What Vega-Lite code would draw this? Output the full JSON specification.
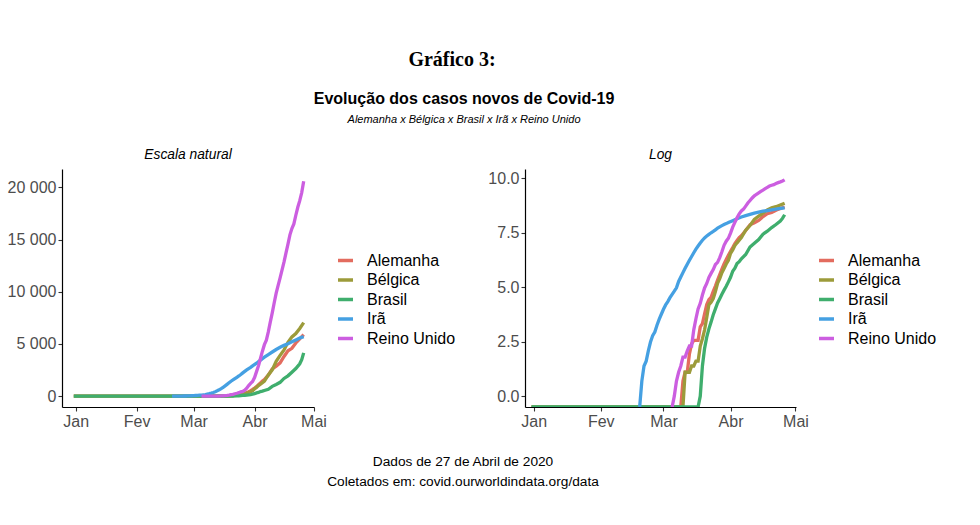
{
  "$schema": "https://vega.github.io/schema/vega-lite/v6.json",
  "autosize": {"type": "pad"},
  "padding": {"left": 7, "top": 50, "right": 0, "bottom": 0},
  "background": "white",
  "title": {"text": "Gráfico 3:", "font": "Liberation Serif", "fontSize": 20, "fontWeight": "bold", "color": "black", "anchor": "middle", "frame": "bounds", "offset": 21, "dx": -20},
  "datasets": {
    "covid": [
      {"d": "2019-12-31", "c": "Alemanha", "v": 0, "l": -1},
      {"d": "2020-03-09", "c": "Alemanha", "v": 0, "l": -1},
      {"d": "2020-03-10", "c": "Alemanha", "v": 2, "l": 0.693},
      {"d": "2020-03-11", "c": "Alemanha", "v": 3, "l": 1.099},
      {"d": "2020-03-12", "c": "Alemanha", "v": 3, "l": 1.099},
      {"d": "2020-03-13", "c": "Alemanha", "v": 7, "l": 1.946},
      {"d": "2020-03-14", "c": "Alemanha", "v": 11, "l": 2.398},
      {"d": "2020-03-15", "c": "Alemanha", "v": 13, "l": 2.565},
      {"d": "2020-03-16", "c": "Alemanha", "v": 13, "l": 2.565},
      {"d": "2020-03-17", "c": "Alemanha", "v": 13, "l": 2.565},
      {"d": "2020-03-18", "c": "Alemanha", "v": 24, "l": 3.178},
      {"d": "2020-03-19", "c": "Alemanha", "v": 28, "l": 3.332},
      {"d": "2020-03-20", "c": "Alemanha", "v": 44, "l": 3.784},
      {"d": "2020-03-21", "c": "Alemanha", "v": 67, "l": 4.205},
      {"d": "2020-03-22", "c": "Alemanha", "v": 84, "l": 4.431},
      {"d": "2020-03-23", "c": "Alemanha", "v": 94, "l": 4.543},
      {"d": "2020-03-24", "c": "Alemanha", "v": 123, "l": 4.812},
      {"d": "2020-03-25", "c": "Alemanha", "v": 157, "l": 5.056},
      {"d": "2020-03-26", "c": "Alemanha", "v": 206, "l": 5.328},
      {"d": "2020-03-27", "c": "Alemanha", "v": 267, "l": 5.587},
      {"d": "2020-03-28", "c": "Alemanha", "v": 342, "l": 5.835},
      {"d": "2020-03-29", "c": "Alemanha", "v": 433, "l": 6.071},
      {"d": "2020-03-30", "c": "Alemanha", "v": 533, "l": 6.279},
      {"d": "2020-03-31", "c": "Alemanha", "v": 645, "l": 6.469},
      {"d": "2020-04-01", "c": "Alemanha", "v": 775, "l": 6.653},
      {"d": "2020-04-02", "c": "Alemanha", "v": 920, "l": 6.824},
      {"d": "2020-04-03", "c": "Alemanha", "v": 1107, "l": 7.009},
      {"d": "2020-04-04", "c": "Alemanha", "v": 1275, "l": 7.151},
      {"d": "2020-04-05", "c": "Alemanha", "v": 1444, "l": 7.275},
      {"d": "2020-04-06", "c": "Alemanha", "v": 1584, "l": 7.368},
      {"d": "2020-04-08", "c": "Alemanha", "v": 2016, "l": 7.609},
      {"d": "2020-04-10", "c": "Alemanha", "v": 2607, "l": 7.866},
      {"d": "2020-04-12", "c": "Alemanha", "v": 2871, "l": 7.962},
      {"d": "2020-04-14", "c": "Alemanha", "v": 3194, "l": 8.069},
      {"d": "2020-04-16", "c": "Alemanha", "v": 3804, "l": 8.244},
      {"d": "2020-04-18", "c": "Alemanha", "v": 4352, "l": 8.378},
      {"d": "2020-04-20", "c": "Alemanha", "v": 4586, "l": 8.431},
      {"d": "2020-04-22", "c": "Alemanha", "v": 5100, "l": 8.537},
      {"d": "2020-04-24", "c": "Alemanha", "v": 5500, "l": 8.613},
      {"d": "2020-04-26", "c": "Alemanha", "v": 5900, "l": 8.683},

      {"d": "2019-12-31", "c": "Bélgica", "v": 0, "l": -1},
      {"d": "2020-03-10", "c": "Bélgica", "v": 0, "l": -1},
      {"d": "2020-03-11", "c": "Bélgica", "v": 3, "l": 1.099},
      {"d": "2020-03-12", "c": "Bélgica", "v": 3, "l": 1.099},
      {"d": "2020-03-13", "c": "Bélgica", "v": 3, "l": 1.099},
      {"d": "2020-03-14", "c": "Bélgica", "v": 4, "l": 1.386},
      {"d": "2020-03-15", "c": "Bélgica", "v": 4, "l": 1.386},
      {"d": "2020-03-16", "c": "Bélgica", "v": 5, "l": 1.609},
      {"d": "2020-03-17", "c": "Bélgica", "v": 5, "l": 1.609},
      {"d": "2020-03-18", "c": "Bélgica", "v": 10, "l": 2.303},
      {"d": "2020-03-19", "c": "Bélgica", "v": 14, "l": 2.639},
      {"d": "2020-03-20", "c": "Bélgica", "v": 21, "l": 3.045},
      {"d": "2020-03-21", "c": "Bélgica", "v": 37, "l": 3.611},
      {"d": "2020-03-22", "c": "Bélgica", "v": 67, "l": 4.205},
      {"d": "2020-03-23", "c": "Bélgica", "v": 75, "l": 4.317},
      {"d": "2020-03-24", "c": "Bélgica", "v": 88, "l": 4.477},
      {"d": "2020-03-25", "c": "Bélgica", "v": 122, "l": 4.804},
      {"d": "2020-03-26", "c": "Bélgica", "v": 178, "l": 5.182},
      {"d": "2020-03-27", "c": "Bélgica", "v": 220, "l": 5.394},
      {"d": "2020-03-28", "c": "Bélgica", "v": 289, "l": 5.666},
      {"d": "2020-03-29", "c": "Bélgica", "v": 353, "l": 5.866},
      {"d": "2020-03-30", "c": "Bélgica", "v": 431, "l": 6.066},
      {"d": "2020-03-31", "c": "Bélgica", "v": 513, "l": 6.240},
      {"d": "2020-04-01", "c": "Bélgica", "v": 705, "l": 6.558},
      {"d": "2020-04-02", "c": "Bélgica", "v": 828, "l": 6.719},
      {"d": "2020-04-03", "c": "Bélgica", "v": 1011, "l": 6.919},
      {"d": "2020-04-04", "c": "Bélgica", "v": 1143, "l": 7.041},
      {"d": "2020-04-05", "c": "Bélgica", "v": 1283, "l": 7.157},
      {"d": "2020-04-06", "c": "Bélgica", "v": 1447, "l": 7.277},
      {"d": "2020-04-08", "c": "Bélgica", "v": 2035, "l": 7.618},
      {"d": "2020-04-10", "c": "Bélgica", "v": 2523, "l": 7.833},
      {"d": "2020-04-12", "c": "Bélgica", "v": 3346, "l": 8.115},
      {"d": "2020-04-14", "c": "Bélgica", "v": 3903, "l": 8.270},
      {"d": "2020-04-16", "c": "Bélgica", "v": 4440, "l": 8.398},
      {"d": "2020-04-18", "c": "Bélgica", "v": 5163, "l": 8.549},
      {"d": "2020-04-20", "c": "Bélgica", "v": 5683, "l": 8.645},
      {"d": "2020-04-22", "c": "Bélgica", "v": 5998, "l": 8.699},
      {"d": "2020-04-24", "c": "Bélgica", "v": 6490, "l": 8.778},
      {"d": "2020-04-26", "c": "Bélgica", "v": 7050, "l": 8.861},

      {"d": "2019-12-31", "c": "Brasil", "v": 0, "l": -1},
      {"d": "2020-03-17", "c": "Brasil", "v": 0, "l": -1},
      {"d": "2020-03-18", "c": "Brasil", "v": 1, "l": 0},
      {"d": "2020-03-19", "c": "Brasil", "v": 4, "l": 1.386},
      {"d": "2020-03-20", "c": "Brasil", "v": 9, "l": 2.197},
      {"d": "2020-03-21", "c": "Brasil", "v": 15, "l": 2.708},
      {"d": "2020-03-22", "c": "Brasil", "v": 22, "l": 3.091},
      {"d": "2020-03-23", "c": "Brasil", "v": 30, "l": 3.401},
      {"d": "2020-03-24", "c": "Brasil", "v": 42, "l": 3.738},
      {"d": "2020-03-25", "c": "Brasil", "v": 55, "l": 4.007},
      {"d": "2020-03-26", "c": "Brasil", "v": 72, "l": 4.277},
      {"d": "2020-03-27", "c": "Brasil", "v": 88, "l": 4.477},
      {"d": "2020-03-28", "c": "Brasil", "v": 108, "l": 4.682},
      {"d": "2020-03-29", "c": "Brasil", "v": 130, "l": 4.868},
      {"d": "2020-03-30", "c": "Brasil", "v": 155, "l": 5.043},
      {"d": "2020-03-31", "c": "Brasil", "v": 190, "l": 5.247},
      {"d": "2020-04-01", "c": "Brasil", "v": 235, "l": 5.460},
      {"d": "2020-04-02", "c": "Brasil", "v": 310, "l": 5.737},
      {"d": "2020-04-03", "c": "Brasil", "v": 355, "l": 5.872},
      {"d": "2020-04-04", "c": "Brasil", "v": 440, "l": 6.087},
      {"d": "2020-04-05", "c": "Brasil", "v": 480, "l": 6.174},
      {"d": "2020-04-06", "c": "Brasil", "v": 550, "l": 6.310},
      {"d": "2020-04-08", "c": "Brasil", "v": 667, "l": 6.503},
      {"d": "2020-04-10", "c": "Brasil", "v": 941, "l": 6.847},
      {"d": "2020-04-12", "c": "Brasil", "v": 1124, "l": 7.025},
      {"d": "2020-04-14", "c": "Brasil", "v": 1328, "l": 7.192},
      {"d": "2020-04-16", "c": "Brasil", "v": 1700, "l": 7.438},
      {"d": "2020-04-18", "c": "Brasil", "v": 1950, "l": 7.576},
      {"d": "2020-04-20", "c": "Brasil", "v": 2300, "l": 7.741},
      {"d": "2020-04-22", "c": "Brasil", "v": 2650, "l": 7.882},
      {"d": "2020-04-24", "c": "Brasil", "v": 3100, "l": 8.039},
      {"d": "2020-04-25", "c": "Brasil", "v": 3500, "l": 8.161},
      {"d": "2020-04-26", "c": "Brasil", "v": 4150, "l": 8.331},

      {"d": "2020-02-19", "c": "Irã", "v": 0, "l": -1},
      {"d": "2020-02-20", "c": "Irã", "v": 2, "l": 0.693},
      {"d": "2020-02-21", "c": "Irã", "v": 4, "l": 1.386},
      {"d": "2020-02-22", "c": "Irã", "v": 5, "l": 1.609},
      {"d": "2020-02-23", "c": "Irã", "v": 8, "l": 2.079},
      {"d": "2020-02-24", "c": "Irã", "v": 12, "l": 2.485},
      {"d": "2020-02-25", "c": "Irã", "v": 16, "l": 2.773},
      {"d": "2020-02-26", "c": "Irã", "v": 19, "l": 2.944},
      {"d": "2020-02-27", "c": "Irã", "v": 26, "l": 3.258},
      {"d": "2020-02-28", "c": "Irã", "v": 34, "l": 3.526},
      {"d": "2020-02-29", "c": "Irã", "v": 43, "l": 3.761},
      {"d": "2020-03-01", "c": "Irã", "v": 54, "l": 3.989},
      {"d": "2020-03-02", "c": "Irã", "v": 66, "l": 4.190},
      {"d": "2020-03-03", "c": "Irã", "v": 77, "l": 4.344},
      {"d": "2020-03-04", "c": "Irã", "v": 92, "l": 4.522},
      {"d": "2020-03-05", "c": "Irã", "v": 107, "l": 4.673},
      {"d": "2020-03-06", "c": "Irã", "v": 124, "l": 4.820},
      {"d": "2020-03-07", "c": "Irã", "v": 145, "l": 4.977},
      {"d": "2020-03-08", "c": "Irã", "v": 194, "l": 5.268},
      {"d": "2020-03-09", "c": "Irã", "v": 237, "l": 5.468},
      {"d": "2020-03-10", "c": "Irã", "v": 291, "l": 5.673},
      {"d": "2020-03-11", "c": "Irã", "v": 354, "l": 5.869},
      {"d": "2020-03-12", "c": "Irã", "v": 429, "l": 6.061},
      {"d": "2020-03-13", "c": "Irã", "v": 514, "l": 6.242},
      {"d": "2020-03-14", "c": "Irã", "v": 611, "l": 6.415},
      {"d": "2020-03-15", "c": "Irã", "v": 724, "l": 6.585},
      {"d": "2020-03-16", "c": "Irã", "v": 853, "l": 6.749},
      {"d": "2020-03-17", "c": "Irã", "v": 988, "l": 6.896},
      {"d": "2020-03-18", "c": "Irã", "v": 1135, "l": 7.034},
      {"d": "2020-03-19", "c": "Irã", "v": 1284, "l": 7.158},
      {"d": "2020-03-20", "c": "Irã", "v": 1433, "l": 7.268},
      {"d": "2020-03-21", "c": "Irã", "v": 1556, "l": 7.350},
      {"d": "2020-03-22", "c": "Irã", "v": 1685, "l": 7.429},
      {"d": "2020-03-23", "c": "Irã", "v": 1812, "l": 7.502},
      {"d": "2020-03-24", "c": "Irã", "v": 1934, "l": 7.567},
      {"d": "2020-03-25", "c": "Irã", "v": 2077, "l": 7.639},
      {"d": "2020-03-26", "c": "Irã", "v": 2234, "l": 7.712},
      {"d": "2020-03-27", "c": "Irã", "v": 2378, "l": 7.774},
      {"d": "2020-03-28", "c": "Irã", "v": 2517, "l": 7.831},
      {"d": "2020-03-29", "c": "Irã", "v": 2640, "l": 7.879},
      {"d": "2020-03-30", "c": "Irã", "v": 2757, "l": 7.922},
      {"d": "2020-03-31", "c": "Irã", "v": 2898, "l": 7.972},
      {"d": "2020-04-02", "c": "Irã", "v": 3160, "l": 8.058},
      {"d": "2020-04-04", "c": "Irã", "v": 3452, "l": 8.147},
      {"d": "2020-04-06", "c": "Irã", "v": 3739, "l": 8.226},
      {"d": "2020-04-08", "c": "Irã", "v": 3993, "l": 8.292},
      {"d": "2020-04-10", "c": "Irã", "v": 4232, "l": 8.350},
      {"d": "2020-04-12", "c": "Irã", "v": 4474, "l": 8.406},
      {"d": "2020-04-14", "c": "Irã", "v": 4683, "l": 8.452},
      {"d": "2020-04-16", "c": "Irã", "v": 4869, "l": 8.491},
      {"d": "2020-04-18", "c": "Irã", "v": 5031, "l": 8.523},
      {"d": "2020-04-20", "c": "Irã", "v": 5209, "l": 8.558},
      {"d": "2020-04-22", "c": "Irã", "v": 5391, "l": 8.592},
      {"d": "2020-04-24", "c": "Irã", "v": 5574, "l": 8.626},
      {"d": "2020-04-26", "c": "Irã", "v": 5710, "l": 8.650},

      {"d": "2020-03-05", "c": "Reino Unido", "v": 0, "l": -1},
      {"d": "2020-03-06", "c": "Reino Unido", "v": 1, "l": 0},
      {"d": "2020-03-07", "c": "Reino Unido", "v": 2, "l": 0.693},
      {"d": "2020-03-08", "c": "Reino Unido", "v": 3, "l": 1.099},
      {"d": "2020-03-09", "c": "Reino Unido", "v": 4, "l": 1.386},
      {"d": "2020-03-10", "c": "Reino Unido", "v": 6, "l": 1.792},
      {"d": "2020-03-11", "c": "Reino Unido", "v": 6, "l": 1.792},
      {"d": "2020-03-12", "c": "Reino Unido", "v": 8, "l": 2.079},
      {"d": "2020-03-13", "c": "Reino Unido", "v": 10, "l": 2.303},
      {"d": "2020-03-14", "c": "Reino Unido", "v": 10, "l": 2.303},
      {"d": "2020-03-15", "c": "Reino Unido", "v": 21, "l": 3.045},
      {"d": "2020-03-16", "c": "Reino Unido", "v": 35, "l": 3.555},
      {"d": "2020-03-17", "c": "Reino Unido", "v": 55, "l": 4.007},
      {"d": "2020-03-18", "c": "Reino Unido", "v": 71, "l": 4.263},
      {"d": "2020-03-19", "c": "Reino Unido", "v": 104, "l": 4.644},
      {"d": "2020-03-20", "c": "Reino Unido", "v": 144, "l": 4.970},
      {"d": "2020-03-21", "c": "Reino Unido", "v": 177, "l": 5.176},
      {"d": "2020-03-22", "c": "Reino Unido", "v": 233, "l": 5.451},
      {"d": "2020-03-23", "c": "Reino Unido", "v": 281, "l": 5.638},
      {"d": "2020-03-24", "c": "Reino Unido", "v": 335, "l": 5.814},
      {"d": "2020-03-25", "c": "Reino Unido", "v": 422, "l": 6.045},
      {"d": "2020-03-26", "c": "Reino Unido", "v": 465, "l": 6.142},
      {"d": "2020-03-27", "c": "Reino Unido", "v": 578, "l": 6.360},
      {"d": "2020-03-28", "c": "Reino Unido", "v": 759, "l": 6.632},
      {"d": "2020-03-29", "c": "Reino Unido", "v": 1019, "l": 6.927},
      {"d": "2020-03-30", "c": "Reino Unido", "v": 1228, "l": 7.113},
      {"d": "2020-03-31", "c": "Reino Unido", "v": 1408, "l": 7.250},
      {"d": "2020-04-01", "c": "Reino Unido", "v": 1789, "l": 7.489},
      {"d": "2020-04-02", "c": "Reino Unido", "v": 2352, "l": 7.763},
      {"d": "2020-04-03", "c": "Reino Unido", "v": 2921, "l": 7.980},
      {"d": "2020-04-04", "c": "Reino Unido", "v": 3605, "l": 8.190},
      {"d": "2020-04-05", "c": "Reino Unido", "v": 4313, "l": 8.369},
      {"d": "2020-04-06", "c": "Reino Unido", "v": 4934, "l": 8.504},
      {"d": "2020-04-07", "c": "Reino Unido", "v": 5373, "l": 8.589},
      {"d": "2020-04-08", "c": "Reino Unido", "v": 6159, "l": 8.726},
      {"d": "2020-04-09", "c": "Reino Unido", "v": 7097, "l": 8.867},
      {"d": "2020-04-10", "c": "Reino Unido", "v": 7978, "l": 8.985},
      {"d": "2020-04-11", "c": "Reino Unido", "v": 8958, "l": 9.100},
      {"d": "2020-04-12", "c": "Reino Unido", "v": 9875, "l": 9.198},
      {"d": "2020-04-13", "c": "Reino Unido", "v": 10612, "l": 9.270},
      {"d": "2020-04-14", "c": "Reino Unido", "v": 11329, "l": 9.335},
      {"d": "2020-04-15", "c": "Reino Unido", "v": 12107, "l": 9.402},
      {"d": "2020-04-16", "c": "Reino Unido", "v": 12868, "l": 9.463},
      {"d": "2020-04-17", "c": "Reino Unido", "v": 13729, "l": 9.527},
      {"d": "2020-04-18", "c": "Reino Unido", "v": 14576, "l": 9.587},
      {"d": "2020-04-19", "c": "Reino Unido", "v": 15464, "l": 9.646},
      {"d": "2020-04-20", "c": "Reino Unido", "v": 16060, "l": 9.684},
      {"d": "2020-04-21", "c": "Reino Unido", "v": 16509, "l": 9.712},
      {"d": "2020-04-22", "c": "Reino Unido", "v": 17337, "l": 9.761},
      {"d": "2020-04-23", "c": "Reino Unido", "v": 18100, "l": 9.804},
      {"d": "2020-04-24", "c": "Reino Unido", "v": 18738, "l": 9.838},
      {"d": "2020-04-25", "c": "Reino Unido", "v": 19506, "l": 9.878},
      {"d": "2020-04-26", "c": "Reino Unido", "v": 20600, "l": 9.933}
    ]
  },
  "vconcat": [
    {
      "title": {"text": ["Dados de 27 de Abril de 2020", "Coletados em: covid.ourworldindata.org/data"], "orient": "bottom", "fontSize": 13.7, "fontWeight": "normal", "color": "black", "anchor": "middle", "frame": "bounds", "offset": 26, "lineHeight": 20, "dx": -9},
      "vconcat": [
        {
          "title": {"text": "Evolução dos casos novos de Covid-19", "subtitle": "Alemanha x Bélgica x Brasil x Irã x Reino Unido", "fontSize": 16, "fontWeight": "bold", "color": "black", "subtitleFontSize": 11, "subtitleFontStyle": "italic", "subtitleColor": "black", "subtitlePadding": 7, "anchor": "middle", "frame": "bounds", "offset": 23, "dx": -8},
          "spacing": 31,
          "resolve": {"scale": {"color": "independent"}},
          "hconcat": [
            {
              "width": 252,
              "height": 238,
              "data": {"name": "covid"},
              "title": {"text": "Escala natural", "fontSize": 13.8, "fontStyle": "italic", "fontWeight": "normal", "color": "black", "anchor": "middle", "offset": 7},
              "mark": {"type": "line", "strokeWidth": 3.3, "clip": true},
              "encoding": {
                "x": {
                  "field": "d", "type": "temporal",
                  "scale": {"domain": [{"year": 2019, "month": 12, "date": 25, "utc": true}, {"year": 2020, "month": 5, "date": 1, "hours": 6, "utc": true}]},
                  "axis": {"title": null, "values": [{"year": 2020, "month": 1, "date": 1, "utc": true}, {"year": 2020, "month": 2, "date": 1, "utc": true}, {"year": 2020, "month": 3, "date": 1, "utc": true}, {"year": 2020, "month": 4, "date": 1, "utc": true}, {"year": 2020, "month": 5, "date": 1, "utc": true}], "labelExpr": "['Jan','Fev','Mar','Abr','Mai'][utcmonth(datum.value)]"}
                },
                "y": {
                  "field": "v", "type": "quantitative",
                  "scale": {"domain": [-1037, 21769], "nice": false, "zero": false},
                  "axis": {"title": null, "values": [0, 5000, 10000, 15000, 20000], "labelExpr": "replace(format(datum.value, ','), ',', ' ')"}
                },
                "color": {
                  "field": "c", "type": "nominal",
                  "scale": {"domain": ["Alemanha", "Bélgica", "Brasil", "Irã", "Reino Unido"], "range": ["#E36C5F", "#9C9B3A", "#3FAE6D", "#45A0E2", "#CC5EE0"]},
                  "legend": {"title": null, "orient": "none", "legendX": 274, "legendY": 82}
                }
              }
            },
            {
              "width": 271,
              "height": 238,
              "data": {"name": "covid"},
              "title": {"text": "Log", "fontSize": 13.8, "fontStyle": "italic", "fontWeight": "normal", "color": "black", "anchor": "middle", "offset": 7},
              "mark": {"type": "line", "strokeWidth": 3.3, "clip": true},
              "encoding": {
                "x": {
                  "field": "d", "type": "temporal",
                  "scale": {"domain": [{"year": 2019, "month": 12, "date": 28, "utc": true}, {"year": 2020, "month": 5, "date": 1, "hours": 6, "utc": true}]},
                  "axis": {"title": null, "values": [{"year": 2020, "month": 1, "date": 1, "utc": true}, {"year": 2020, "month": 2, "date": 1, "utc": true}, {"year": 2020, "month": 3, "date": 1, "utc": true}, {"year": 2020, "month": 4, "date": 1, "utc": true}, {"year": 2020, "month": 5, "date": 1, "utc": true}], "labelExpr": "['Jan','Fev','Mar','Abr','Mai'][utcmonth(datum.value)]"}
                },
                "y": {
                  "field": "l", "type": "quantitative",
                  "scale": {"domain": [-0.497, 10.43], "nice": false, "zero": false, "clamp": true},
                  "axis": {"title": null, "values": [0, 2.5, 5, 7.5, 10], "format": ".1f"}
                },
                "color": {
                  "field": "c", "type": "nominal",
                  "scale": {"domain": ["Alemanha", "Bélgica", "Brasil", "Irã", "Reino Unido"], "range": ["#E36C5F", "#9C9B3A", "#3FAE6D", "#45A0E2", "#CC5EE0"]},
                  "legend": {"title": null, "orient": "none", "legendX": 292, "legendY": 82}
                }
              }
            }
          ]
        }
      ]
    }
  ],
  "config": {
    "font": "Liberation Sans",
    "view": {"stroke": null},
    "title": {"font": "Liberation Sans"},
    "axis": {"grid": false, "labelFlush": false, "labelOverlap": false, "domainColor": "#000000", "domainWidth": 1.2, "tickColor": "#333333", "tickWidth": 1.1, "tickSize": 4, "labelPadding": 2, "labelFont": "Liberation Sans", "labelFontSize": 16, "labelColor": "#4D4D4D"},
    "legend": {"labelFont": "Liberation Sans", "labelFontSize": 16, "labelColor": "#000000", "symbolType": "stroke", "symbolSize": 225, "symbolStrokeWidth": 3.5, "rowPadding": 1.5, "labelOffset": 12, "padding": 0}
  }
}
